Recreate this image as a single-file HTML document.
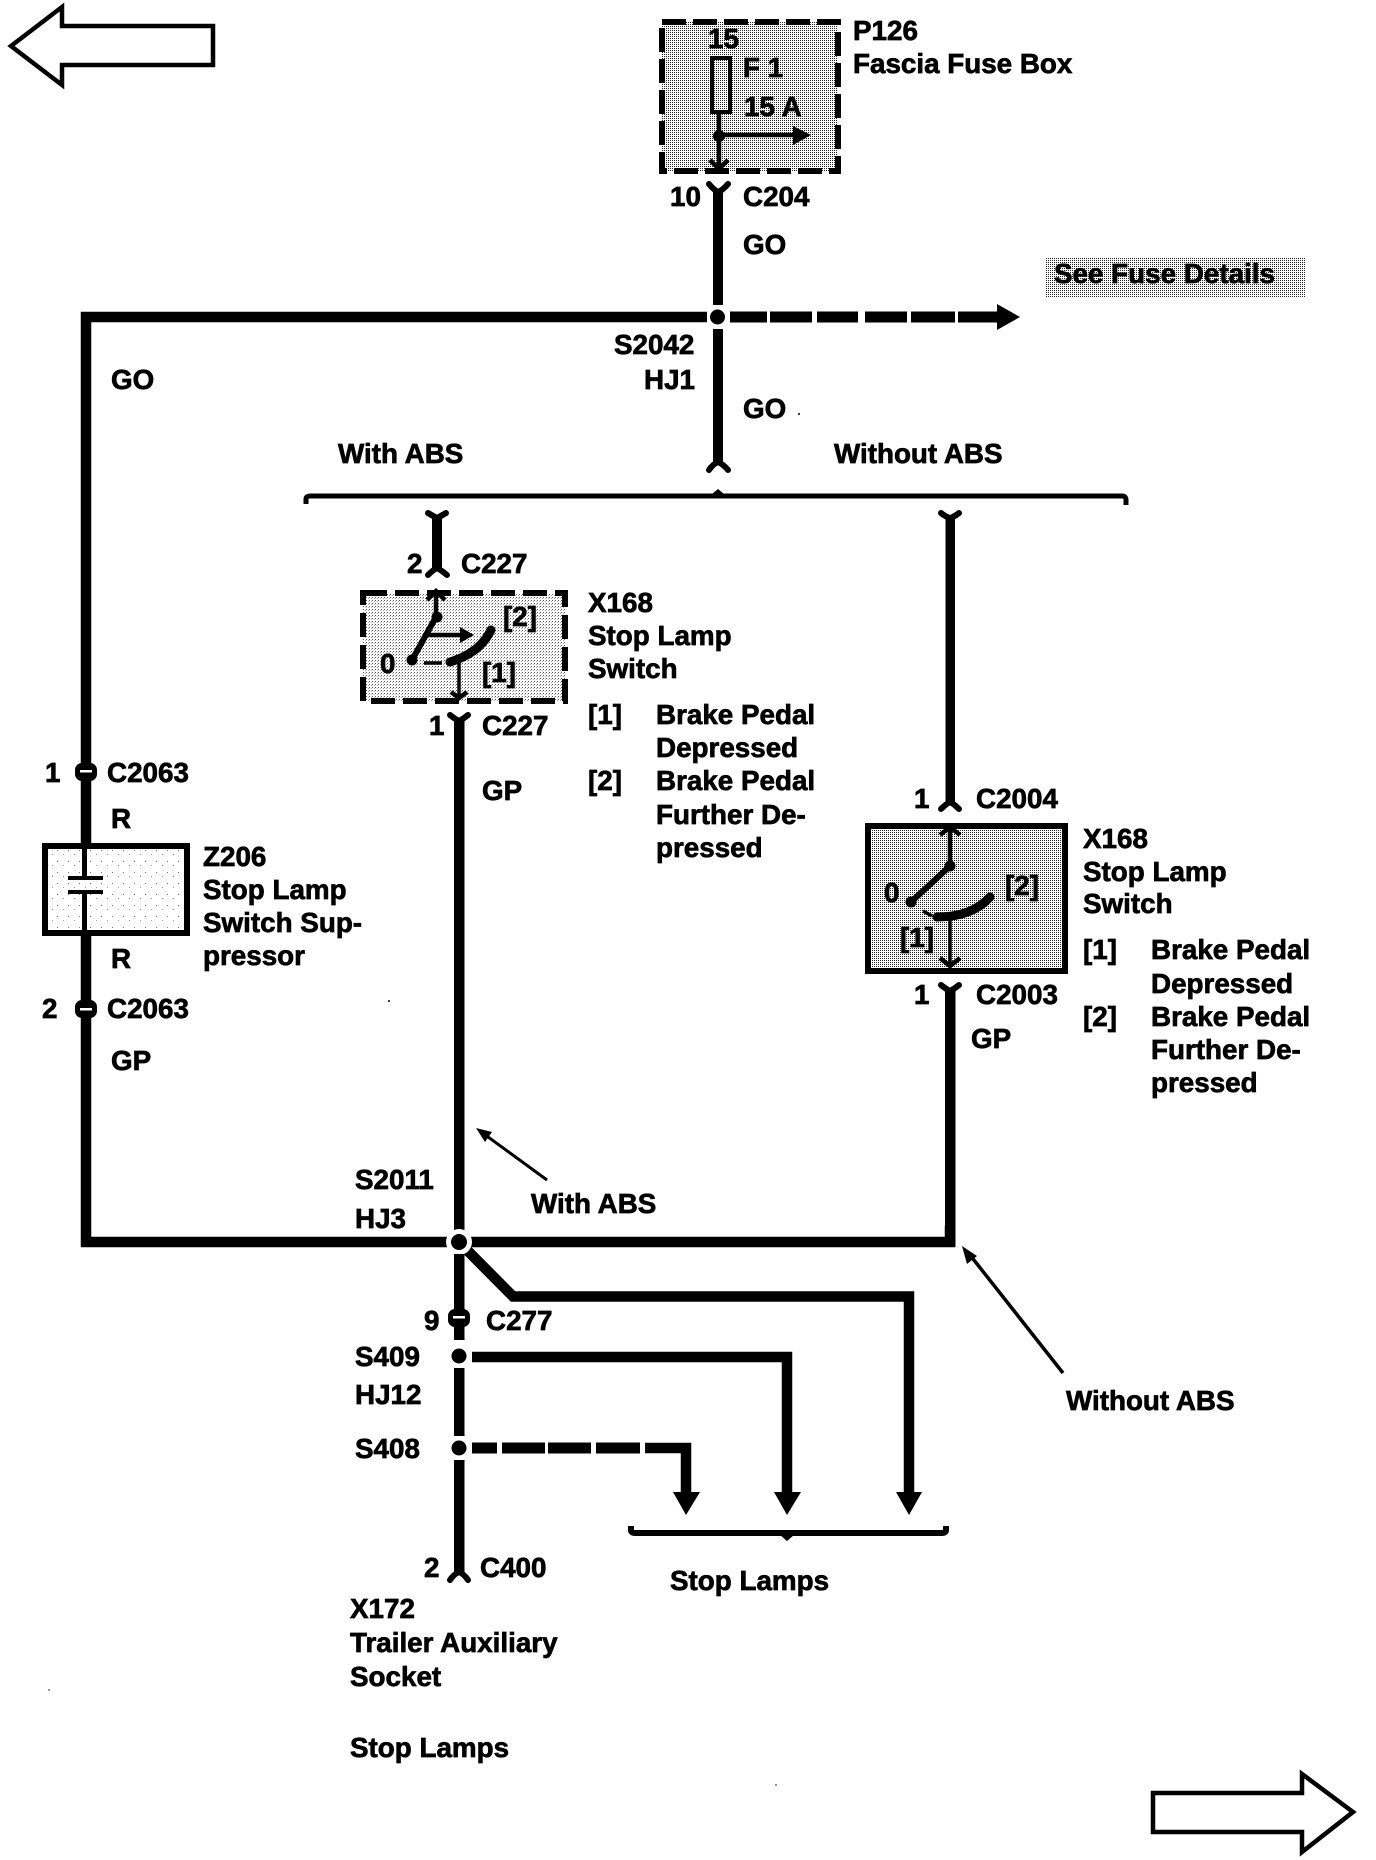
<!DOCTYPE html>
<html>
<head>
<meta charset="utf-8">
<title>Stop Lamps wiring diagram</title>
<style>
html,body{margin:0;padding:0;background:#fff;width:1376px;height:1860px;overflow:hidden}
svg{display:block}
text{font-family:"Liberation Sans",Arial,sans-serif;font-weight:700;font-size:27.8px;fill:#000;stroke:#000;stroke-width:.7px;transform:translateX(-1px)}
.w{fill:none;stroke:#000;stroke-width:10.5}
.t{fill:none;stroke:#000;stroke-width:4.5}
.f{fill:none;stroke:#000;stroke-width:6;stroke-linecap:round}
</style>
</head>
<body>
<svg width="1376" height="1860" viewBox="0 0 1376 1860" xmlns="http://www.w3.org/2000/svg">
<defs>
<pattern id="g1" width="2" height="2" patternUnits="userSpaceOnUse"><rect width="2" height="2" fill="#fff"/><rect width="1" height="1" fill="#222"/></pattern>
<pattern id="g2" width="3" height="3" patternUnits="userSpaceOnUse"><rect width="3" height="3" fill="#fff"/><rect width="1" height="1" fill="#555"/><rect x="2" y="1" width="1" height="1" fill="#aaa"/></pattern>
<pattern id="g3" width="11" height="11" patternUnits="userSpaceOnUse"><rect width="11" height="11" fill="#fff"/><rect x="2" y="3" width="1" height="1" fill="#777"/><rect x="8" y="7" width="1" height="1" fill="#999"/></pattern>
</defs>

<!-- nav arrows -->
<polygon points="11,46 62,7 62,26 213,26 213,65 62,65 62,85" fill="#fff" stroke="#000" stroke-width="4.5"/>
<polygon points="1153,1793 1302,1793 1302,1774 1353,1812 1302,1852 1302,1832 1153,1832" fill="#fff" stroke="#000" stroke-width="4.5"/>

<!-- P126 -->
<rect x="662" y="22" width="176" height="149" fill="url(#g1)"/>
<rect x="662" y="22" width="176" height="149" fill="none" stroke="#000" stroke-width="6" stroke-dasharray="24 7"/>
<rect x="712" y="58" width="18" height="54" fill="none" stroke="#000" stroke-width="4"/>
<line x1="719" y1="112" x2="719" y2="170" class="t"/>
<circle cx="719" cy="136" r="6"/>
<line x1="719" y1="135" x2="796" y2="135" class="t"/>
<polygon points="793,126 811,135 793,145"/>
<path d="M710 160 L719 169 L728 160" class="t"/>
<text x="709" y="48">15</text>
<text x="744" y="77">F 1</text>
<text x="745" y="116">15 A</text>
<text x="854" y="40">P126</text>
<text x="854" y="73">Fascia Fuse Box</text>

<!-- top trunk -->
<path d="M709 184 Q714 190 718 192 Q723 190 728 184" class="f"/>
<rect x="713" y="190" width="10" height="115"/>
<text x="671" y="206">10</text>
<text x="744" y="206">C204</text>
<text x="744" y="254">GO</text>

<rect x="1045" y="258" width="260" height="39" fill="url(#g1)"/>
<text x="1055" y="283">See Fuse Details</text>

<path d="M707 317 H86 V1242 H950 V1226" class="w"/>
<circle cx="717.5" cy="317" r="7.5"/>
<g>
<rect x="730" y="311.5" width="37" height="11"/>
<rect x="770" y="311.5" width="42" height="11"/>
<rect x="817" y="311.5" width="41" height="11"/>
<rect x="865" y="311.5" width="42" height="11"/>
<rect x="911" y="311.5" width="44" height="11"/>
<rect x="958" y="311.5" width="40" height="11"/>
<polygon points="997,304 1020,317 997,330"/>
</g>
<rect x="713" y="329" width="10" height="135"/>
<path d="M709 470 Q713 464 718 462 Q723 464 728 470" class="f"/>
<text x="615" y="354">S2042</text>
<text x="645" y="389">HJ1</text>
<text x="744" y="418">GO</text>
<circle cx="799" cy="414" r="1"/>
<text x="112" y="389">GO</text>
<text x="339" y="463">With ABS</text>
<text x="835" y="463">Without ABS</text>

<!-- top brace -->
<path d="M306 504 V499 Q306 496 310 496 H1122 Q1126 496 1126 500 V505" fill="none" stroke="#000" stroke-width="5"/>
<polygon points="712,494 718,489 724,494"/>

<!-- With ABS branch -->
<path d="M428 513 Q433 516 437 518 Q441 516 446 513" class="f"/>
<rect x="432" y="516" width="10" height="54"/>
<path d="M428 575 Q433 570 437 568 Q441 570 447 575" class="f"/>
<text x="408" y="573">2</text>
<text x="462" y="573">C227</text>

<rect x="363" y="593" width="202" height="108" fill="url(#g2)"/>
<rect x="363" y="593" width="202" height="108" fill="none" stroke="#000" stroke-width="6" stroke-dasharray="24 8"/>
<path d="M427 600 L436 591 L445 600" class="t"/>
<line x1="436" y1="592" x2="436" y2="617" class="t"/>
<circle cx="437" cy="617" r="5.5"/>
<line x1="436" y1="617" x2="412" y2="660" stroke="#000" stroke-width="6"/>
<circle cx="412" cy="660" r="5.5"/>
<line x1="428" y1="635" x2="462" y2="635" class="t"/>
<polygon points="460,627 474,635 460,643"/>
<line x1="424" y1="663" x2="442" y2="663" stroke="#000" stroke-width="3.5"/>
<path d="M450 662 Q480 653 491 630" fill="none" stroke="#000" stroke-width="9" stroke-linecap="round"/>
<line x1="459" y1="662" x2="459" y2="697" stroke="#000" stroke-width="3.5"/>
<path d="M451 692 L459 698 L467 692" class="t"/>
<text x="381" y="673">0</text>
<text x="504" y="626">[2]</text>
<text x="483" y="682">[1]</text>

<text x="589" y="612">X168</text>
<text x="589" y="645">Stop Lamp</text>
<text x="589" y="678">Switch</text>
<text x="589" y="724">[1]</text>
<text x="657" y="724">Brake Pedal</text>
<text x="657" y="757">Depressed</text>
<text x="589" y="790">[2]</text>
<text x="657" y="790">Brake Pedal</text>
<text x="657" y="824">Further De-</text>
<text x="657" y="857">pressed</text>

<path d="M450 715 Q455 719 459 721 Q463 719 468 715" class="f"/>
<rect x="454" y="719" width="10.5" height="511"/>
<text x="430" y="735">1</text>
<text x="483" y="735">C227</text>
<text x="483" y="800">GP</text>

<!-- leader With ABS -->
<line x1="547" y1="1180" x2="484" y2="1134" stroke="#000" stroke-width="3"/>
<polygon points="476,1128 492,1132 485,1142"/>

<!-- Without ABS branch -->
<path d="M941 513 Q946 517 950 518 Q954 517 959 513" class="f"/>
<rect x="945.5" y="516" width="9.5" height="289"/>
<path d="M941 809 Q946 804 950 802 Q954 804 959 809" class="f"/>
<text x="915" y="808">1</text>
<text x="977" y="808">C2004</text>

<rect x="868" y="826" width="197" height="145" fill="url(#g1)"/>
<rect x="868" y="826" width="197" height="145" fill="none" stroke="#000" stroke-width="6"/>
<path d="M940 835 L950 827 L960 835" class="t"/>
<line x1="950" y1="827" x2="950" y2="866" class="t"/>
<circle cx="950" cy="866" r="5.5"/>
<line x1="950" y1="866" x2="911" y2="902" stroke="#000" stroke-width="6"/>
<circle cx="911" cy="902" r="5.5"/>
<line x1="923" y1="911" x2="932" y2="916" stroke="#000" stroke-width="3.5"/>
<path d="M937 917 Q972 917 990 897" fill="none" stroke="#000" stroke-width="9" stroke-linecap="round"/>
<line x1="950" y1="918" x2="950" y2="966" stroke="#000" stroke-width="3.5"/>
<path d="M940 958 L950 966 L960 958" class="t"/>
<text x="885" y="902">0</text>
<text x="1006" y="895">[2]</text>
<text x="901" y="947">[1]</text>

<text x="1084" y="848">X168</text>
<text x="1084" y="881">Stop Lamp</text>
<text x="1084" y="913">Switch</text>
<text x="1084" y="959">[1]</text>
<text x="1152" y="959">Brake Pedal</text>
<text x="1152" y="993">Depressed</text>
<text x="1084" y="1026">[2]</text>
<text x="1152" y="1026">Brake Pedal</text>
<text x="1152" y="1059">Further De-</text>
<text x="1152" y="1092">pressed</text>

<path d="M941 985 Q946 989 950 991 Q954 989 959 985" class="f"/>
<rect x="945" y="989" width="10.5" height="258"/>
<text x="915" y="1004">1</text>
<text x="977" y="1004">C2003</text>
<text x="972" y="1048">GP</text>

<!-- leader Without ABS -->
<line x1="1063" y1="1373" x2="970" y2="1255" stroke="#000" stroke-width="3.5"/>
<polygon points="962,1246 977,1256 967,1264"/>
<text x="1067" y="1410">Without ABS</text>

<!-- left suppressor -->
<rect x="75" y="763" width="22" height="18" rx="7"/>
<rect x="80" y="770" width="12" height="2.5" fill="#fff"/>
<text x="46" y="782">1</text>
<text x="108" y="782">C2063</text>
<text x="112" y="828">R</text>
<rect x="45" y="846" width="142" height="87" fill="url(#g3)"/>
<rect x="45" y="846" width="142" height="87" fill="none" stroke="#000" stroke-width="6"/>
<rect x="82" y="849" width="5" height="29"/>
<rect x="68" y="876" width="35" height="4"/>
<rect x="68" y="890" width="35" height="4"/>
<rect x="82" y="894" width="5" height="36"/>
<text x="204" y="866">Z206</text>
<text x="204" y="899">Stop Lamp</text>
<text x="204" y="932">Switch Sup-</text>
<text x="204" y="965">pressor</text>
<text x="112" y="968">R</text>
<rect x="75" y="1000" width="22" height="18" rx="7"/>
<rect x="80" y="1008" width="12" height="2.5" fill="#fff"/>
<text x="43" y="1018">2</text>
<text x="108" y="1018">C2063</text>
<text x="112" y="1070">GP</text>

<!-- bottom bus -->
<path d="M459 1242 L513 1296.5 H909 V1495" class="w"/>
<circle cx="459" cy="1242" r="13" fill="#fff"/>
<circle cx="459" cy="1242" r="8"/>
<text x="356" y="1189">S2011</text>
<text x="356" y="1228">HJ3</text>
<text x="532" y="1213">With ABS</text>

<rect x="454" y="1254" width="10.5" height="86"/>
<rect x="448" y="1309" width="22" height="18" rx="7"/>
<rect x="453" y="1316" width="12" height="2.5" fill="#fff"/>
<text x="425" y="1330">9</text>
<text x="487" y="1330">C277</text>

<circle cx="459" cy="1356" r="7.5"/>
<rect x="454" y="1368" width="10.5" height="68"/>
<path d="M472 1357 H787 V1495" class="w"/>
<text x="356" y="1366">S409</text>
<text x="356" y="1404">HJ12</text>

<circle cx="459" cy="1448" r="7.5"/>
<text x="356" y="1458">S408</text>
<rect x="472" y="1442.5" width="25" height="11"/>
<rect x="502" y="1442.5" width="43" height="11"/>
<rect x="548" y="1442.5" width="43" height="11"/>
<rect x="596" y="1442.5" width="44" height="11"/>
<path d="M645 1448 H686 V1495" class="w"/>

<polygon points="673,1492 700,1492 686,1515"/>
<polygon points="774,1492 801,1492 787,1515"/>
<polygon points="896,1492 922,1492 909,1515"/>

<path d="M631 1526 V1530 Q631 1533 635 1533 H942 Q946 1533 946 1530 V1526" fill="none" stroke="#000" stroke-width="6"/>
<polygon points="780,1535 794,1535 787,1541"/>
<text x="671" y="1590">Stop Lamps</text>

<rect x="454" y="1460" width="10.5" height="115"/>
<path d="M450 1580 Q454 1574 459 1572 Q464 1574 468 1580" class="f"/>
<text x="425" y="1577">2</text>
<text x="481" y="1577">C400</text>
<text x="351" y="1618">X172</text>
<text x="351" y="1652">Trailer Auxiliary</text>
<text x="351" y="1686">Socket</text>
<text x="351" y="1757">Stop Lamps</text>

<!-- scan specks -->
<circle cx="389" cy="1001" r="1"/>
<circle cx="49" cy="1690" r=".7"/>
<circle cx="776" cy="1785" r=".7"/>
</svg>
</body>
</html>
